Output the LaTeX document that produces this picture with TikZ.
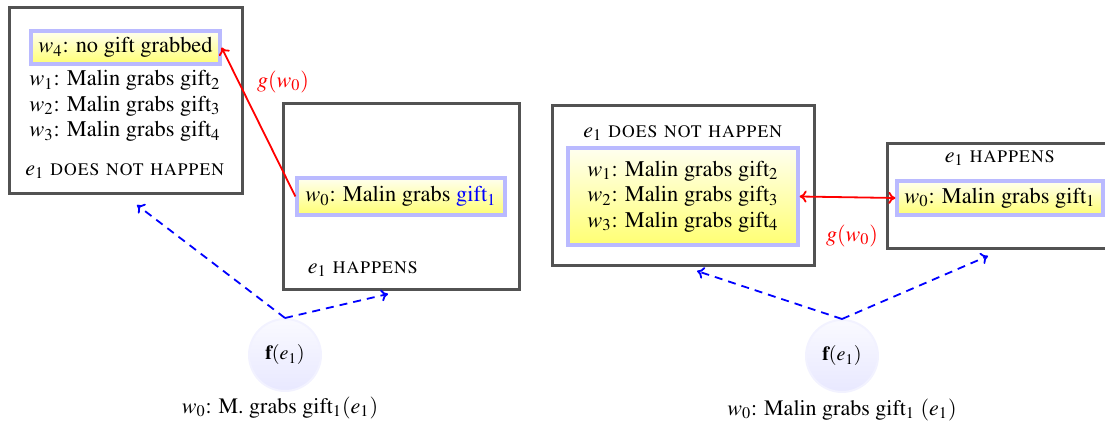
\documentclass[tikz,border=0pt]{standalone}
\usepackage[T1]{fontenc}
\usepackage{mathptmx}
\usetikzlibrary{arrows.meta}
\begin{document}
\begin{tikzpicture}[x=0.5pt,y=-0.5pt,
  world/.style={draw=black!68,line width=1.5pt,fill=white,inner sep=0pt},
  wnode/.style={draw=blue!27,line width=1.6pt,top color=yellow!6,bottom color=yellow!55,inner sep=2pt,align=center},
  txt/.style={inner sep=0pt,align=center,font=\fontsize{11.2}{12.75}\selectfont},
  evt/.style={inner sep=0pt,font=\fontsize{11}{12}\selectfont},
  fnode/.style={circle,draw=blue!5,line width=1pt,top color=blue!2,bottom color=blue!9,minimum size=36pt,inner sep=0pt},
  redarr/.style={draw=red,line width=0.9pt,-{To[length=3.5pt,width=6pt]}},
  bluearr/.style={draw=blue,line width=0.9pt,dash pattern=on 4pt off 3pt,-{To[length=3.5pt,width=6pt]}},
  lbl/.style={inner sep=0pt,font=\fontsize{11}{12}\selectfont}]
\useasboundingbox (0,0) rectangle (1105,421);
% ---------- left diagram ----------
\node[world,minimum width=116.5pt,minimum height=93pt] (b1) at (125.5,101) {};
\node[wnode,txt,minimum width=94.5pt,minimum height=16.5pt] (w4) at (125.5,47.5) {$w_4$: no gift grabbed};
\node[txt] (w123) at (125,106) {$w_1$: Malin grabs gift$_2$\\$w_2$: Malin grabs gift$_3$\\$w_3$: Malin grabs gift$_4$};
\node[evt] (e1n) at (125,171) {$e_1$ \textsc{does not happen}};
\node[world,minimum width=118pt,minimum height=93pt] (b2) at (401,197) {};
\node[wnode,txt,minimum width=104pt,minimum height=18.5pt] (w0) at (401,196.5) {$w_0$: Malin grabs \textcolor{blue}{gift$_1$}};
\node[evt] (e1h) at (363,269) {$e_1$ \textsc{happens}};
\draw[redarr] (w0.west) -- (w4.east);
\node[lbl,text=red] (g1) at (283,82) {$g(w_0)$};
\node[fnode] (f1) at (285,355) {$\mathbf{f}(e_1)$};
\node[lbl] (l1) at (280,408) {$w_0$: M.\ grabs gift$_1(e_1)$};
\coordinate (t1a) at (137,205);
\coordinate (t1b) at (388,294);
\draw[bluearr] (f1.north) -- (t1a);
\draw[bluearr] (f1.north) -- (t1b);
% ---------- right diagram ----------
\node[world,minimum width=131pt,minimum height=80pt] (b3) at (683,186) {};
\node[evt] (e1n2) at (683,133) {$e_1$ \textsc{does not happen}};
\node[wnode,txt,minimum width=115pt,minimum height=48.5pt] (w13) at (683,196.5) {$w_1$: Malin grabs gift$_2$\\$w_2$: Malin grabs gift$_3$\\$w_3$: Malin grabs gift$_4$};
\node[world,minimum width=115pt,minimum height=52.5pt] (b4) at (1002,196.5) {};
\node[evt] (e1h2) at (1000,158) {$e_1$ \textsc{happens}};
\node[wnode,txt,minimum width=103pt,minimum height=17pt] (w0r) at (1000,198) {$w_0$: Malin grabs gift$_1$};
\draw[redarr,{To[length=3.5pt,width=6pt]}-{To[length=3.5pt,width=6pt]}] (w13.east) -- (w0r.west);
\node[lbl,text=red] (g2) at (852,236) {$g(w_0)$};
\node[fnode] (f2) at (842,356) {$\mathbf{f}(e_1)$};
\node[lbl] (l2) at (842,410) {$w_0$: Malin grabs gift$_1$ $(e_1)$};
\coordinate (t2a) at (697,271);
\coordinate (t2b) at (988,256);
\draw[bluearr] (f2.north) -- (t2a);
\draw[bluearr] (f2.north) -- (t2b);
\end{tikzpicture}
\end{document}
